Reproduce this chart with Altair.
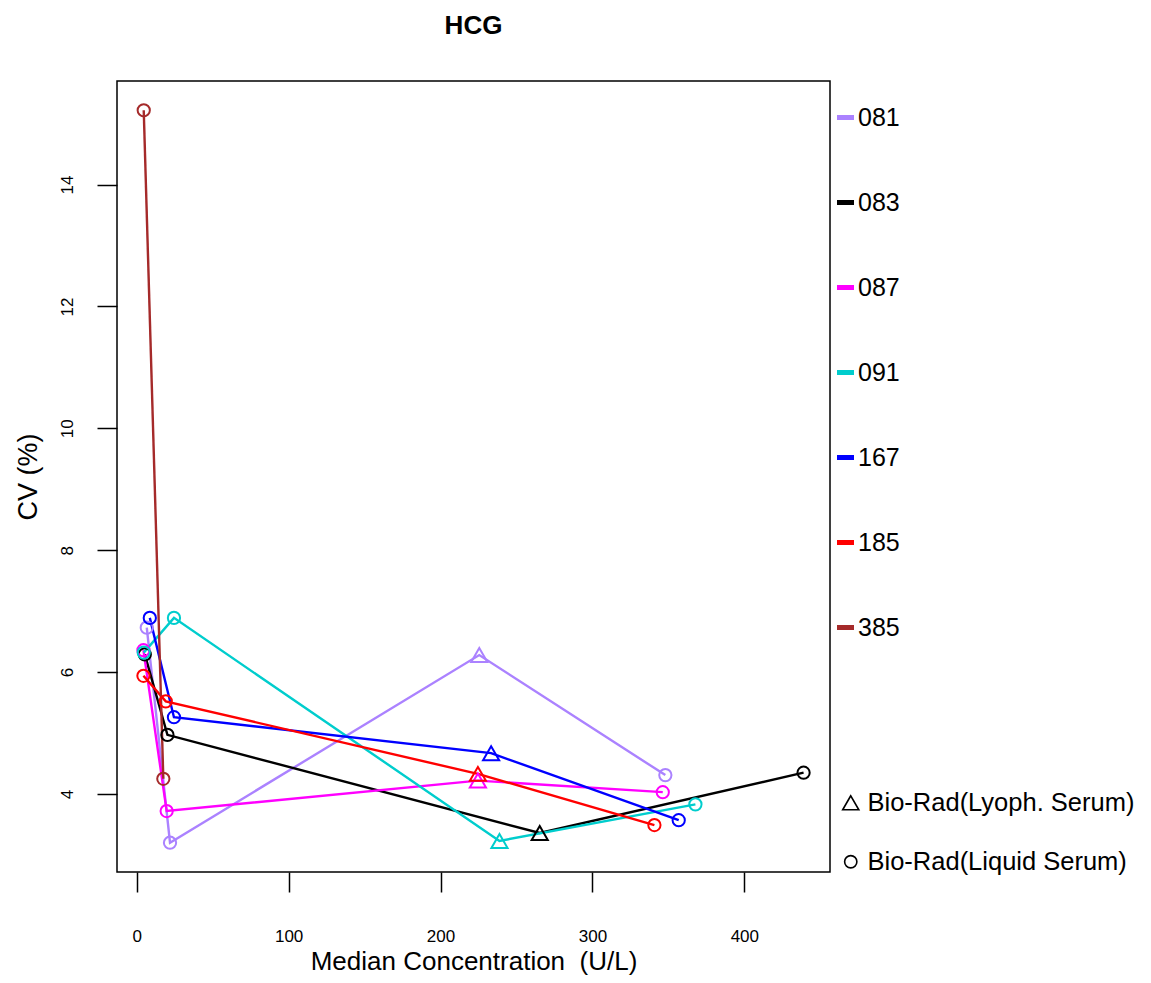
import altair as alt
import pandas as pd

LYO = "Bio-Rad(Lyoph. Serum)"
LIQ = "Bio-Rad(Liquid Serum)"

lab_ids = ["081", "083", "087", "091", "167", "185", "385"]
lab_colors = ["#AB82FF", "#000000", "#FF00FF", "#00CDCD", "#0000FF", "#FF0000", "#A52A2A"]

lab = (["081"] * 4 + ["083"] * 4 + ["087"] * 4 + ["091"] * 4 +
       ["167"] * 4 + ["185"] * 4 + ["385"] * 2)
median_conc = [6.6, 21.9, 225.5, 348.0,
               5.3, 20.2, 265.3, 439.0,
               4.4, 19.7, 224.6, 346.3,
               4.6, 24.5, 238.8, 367.8,
               8.6, 24.5, 233.3, 356.8,
               4.4, 19.1, 224.6, 340.8,
               4.6, 17.5]
cv = [6.73, 3.20, 6.28, 4.31,
      6.29, 4.97, 3.36, 4.35,
      6.36, 3.72, 4.22, 4.03,
      6.32, 6.89, 3.23, 3.83,
      6.89, 5.26, 4.67, 3.57,
      5.94, 5.52, 4.33, 3.49,
      15.22, 4.25]
material = ([LIQ, LIQ, LYO, LIQ] * 6) + [LIQ, LIQ]

x_ticks = [0, 100, 200, 300, 400]
y_ticks = [4, 6, 8, 10, 12, 14]

df = pd.DataFrame({"lab": lab, "conc": median_conc, "cv": cv, "material": material})

FONT = "Liberation Sans"

x_enc = alt.X("conc:Q",
              scale=alt.Scale(domain=[-13.0, 456.4], nice=False, zero=False),
              axis=alt.Axis(values=x_ticks, title="Median Concentration\u00a0 (U/L)",
                            labelPadding=36, titlePadding=4, titleFontSize=26))
y_enc = alt.Y("cv:Q",
              scale=alt.Scale(domain=[2.72, 15.70], nice=False, zero=False),
              axis=alt.Axis(values=y_ticks, title="CV (%)", labelAngle=-90,
                            labelPadding=21, titlePadding=16))

color_legend = alt.Legend(title=None, orient="none", legendX=716, legendY=24,
                          symbolType="stroke", symbolStrokeWidth=5, symbolSize=289,
                          labelFontSize=25, labelFont=FONT, labelColor="black",
                          labelOffset=0, labelLimit=400, rowPadding=59, padding=0)
color_enc = alt.Color("lab:N", scale=alt.Scale(domain=lab_ids, range=lab_colors),
                      legend=color_legend)

lines = alt.Chart(df).mark_line(strokeWidth=2.4).encode(
    x=x_enc, y=y_enc, color=color_enc, order="conc:Q"
)

shape_legend = alt.Legend(title=None, orient="none", legendX=721, legendY=709,
                          symbolStrokeColor="black", symbolStrokeWidth=1.6,
                          symbolFillColor="white",
                          labelFontSize=25.5, labelFont=FONT, labelColor="black",
                          labelOffset=4, labelLimit=500, rowPadding=32, padding=0)

points = alt.Chart(df).mark_point(filled=False, strokeWidth=2, opacity=1).encode(
    x=x_enc, y=y_enc, color=color_enc,
    size=alt.Size("material:N", scale=alt.Scale(domain=[LYO, LIQ], range=[260, 150]),
                  legend=shape_legend),
    shape=alt.Shape("material:N",
                    scale=alt.Scale(domain=[LYO, LIQ], range=["triangle-up", "circle"]),
                    legend=shape_legend)
)

chart = alt.layer(lines, points).properties(
    width=713, height=791,
    autosize=alt.AutoSizeParams(type="none"),
    padding={"left": 109, "top": 73, "right": 313, "bottom": 103},
    title=alt.TitleParams("HCG", fontSize=26, fontWeight="bold", font=FONT,
                          color="black", anchor="middle", offset=42),
).configure_view(
    stroke="black", strokeWidth=1.5
).configure_axis(
    domain=False, grid=False, tickColor="black", tickWidth=1.5, tickSize=20,
    labelFont=FONT, labelFontSize=17, labelColor="black",
    titleFont=FONT, titleFontSize=27, titleFontWeight="normal", titleColor="black"
)

chart.save("out.html", embed_options={"renderer": "svg", "actions": False})
